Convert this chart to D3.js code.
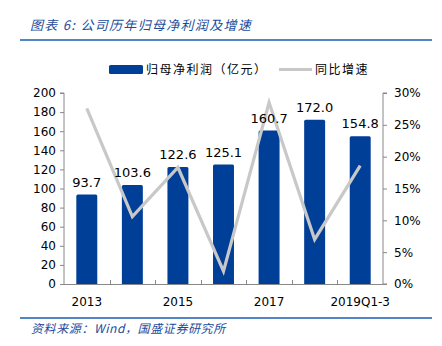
<!DOCTYPE html>
<html><head><meta charset="utf-8">
<script src="https://cdn.jsdelivr.net/npm/d3@7"></script>
<style>
body{margin:0;background:#fff;}
svg{display:block;}
</style></head>
<body>
<svg id="c" width="442" height="346"></svg>
<script>
const categories = ["2013","2014","2015","2016","2017","2018","2019Q1-3"];
const profit = [93.7,103.6,122.6,125.1,160.7,172.0,154.8];
const growth = [27.6,10.6,18.3,2.0,28.5,7.0,18.6];
const leftTicks = [0,20,40,60,80,100,120,140,160,180,200];
const rightTicks = [0,5,10,15,20,25,30];
const xLabels = ["2013","2015","2017","2019Q1-3"];

const svg = d3.select("#c");
const font = "'DejaVu Sans', Verdana, sans-serif";
const cjk = "'Noto Sans CJK SC', sans-serif";
const blue = "#003f98";
const gray = "#c8c8c8";
const axisCol = "#888";

// Title
svg.append("text").attr("x",30).attr("y",30)
  .attr("font-family",cjk).attr("font-style","italic").attr("font-size",13)
  .attr("letter-spacing",1.3)
  .attr("fill","#1a4c9c").text("图表 6:  公司历年归母净利润及增速");
svg.append("line").attr("x1",20).attr("x2",432).attr("y1",40).attr("y2",40)
  .attr("stroke","#1a5bb5").attr("stroke-width",1.5);

// Footer
svg.append("line").attr("x1",20).attr("x2",432).attr("y1",318).attr("y2",318)
  .attr("stroke","#1a5bb5").attr("stroke-width",1.5);
svg.append("text").attr("x",31).attr("y",333)
  .attr("font-family",cjk).attr("font-style","italic").attr("font-size",12)
  .attr("letter-spacing",0.6)
  .attr("fill","#1a4c9c").text("资料来源：Wind，国盛证券研究所");

const x = d3.scaleBand().domain(categories).range([64,383]).paddingInner(0.54).paddingOuter(0.27);
const band = d3.scaleBand().domain(categories).range([64,383]);
const yL = d3.scaleLinear().domain([0,200]).range([284,93]);
const yR = d3.scaleLinear().domain([0,30]).range([284,93]);

// Left axis
const gL = svg.append("g").attr("transform","translate(64,0)")
  .call(d3.axisLeft(yL).tickValues(leftTicks).tickSize(4).tickPadding(4));
gL.select(".domain").attr("stroke",axisCol).attr("d","M-4,93H0V284H0");
gL.selectAll(".tick line").attr("stroke",axisCol);
gL.selectAll("text").attr("font-family",font).attr("font-size",12).attr("fill","#000");

// Right axis
const gR = svg.append("g").attr("transform","translate(383,0)")
  .call(d3.axisRight(yR).tickValues(rightTicks).tickSize(4).tickPadding(7).tickFormat(d=>d+"%"));
gR.select(".domain").attr("stroke",axisCol).attr("d","M4,93H0V284H4");
gR.selectAll(".tick line").attr("stroke",axisCol);
gR.selectAll("text").attr("font-family",font).attr("font-size",12).attr("fill","#000");

// Bars
svg.selectAll("rect.bar").data(categories).join("rect").attr("class","bar")
  .attr("x",d=>x(d)).attr("width",x.bandwidth())
  .attr("y",(d,i)=>yL(profit[i])).attr("height",(d,i)=>yL(0)-yL(profit[i])+1)
  .attr("rx",1.5).attr("fill",blue);

// X axis
svg.append("line").attr("x1",64).attr("x2",383).attr("y1",284.5).attr("y2",284.5)
  .attr("stroke",axisCol);
svg.selectAll("line.xt").data(categories.slice(1)).join("line").attr("class","xt")
  .attr("x1",d=>Math.round(band(d))+0.5).attr("x2",d=>Math.round(band(d))+0.5)
  .attr("y1",280).attr("y2",284).attr("stroke",axisCol);
svg.selectAll("text.xl").data(xLabels).join("text").attr("class","xl")
  .attr("x",d=>band(d)+band.bandwidth()/2).attr("y",306).attr("text-anchor","middle")
  .attr("font-family",font).attr("font-size",12).attr("fill","#000").text(d=>d);

// Line
const line = d3.line().x((d,i)=>band(categories[i])+band.bandwidth()/2).y(d=>yR(d));
svg.append("path").datum(growth).attr("d",line).attr("fill","none")
  .attr("stroke",gray).attr("stroke-width",3.2).attr("stroke-linejoin","miter");

// Value labels
svg.selectAll("text.vl").data(categories).join("text").attr("class","vl")
  .attr("x",d=>band(d)+band.bandwidth()/2).attr("y",(d,i)=>yL(profit[i])-8)
  .attr("text-anchor","middle").attr("font-family",font).attr("font-size",13).attr("fill","#000")
  .text((d,i)=>profit[i].toFixed(1));

// Legend
svg.append("rect").attr("x",109).attr("y",65).attr("width",34).attr("height",9).attr("rx",1.5).attr("fill",blue);
svg.append("text").attr("x",146).attr("y",74).attr("font-family",cjk).attr("font-size",12).attr("fill","#000")
  .attr("letter-spacing",1.5).text("归母净利润（亿元）");
svg.append("line").attr("x1",279).attr("x2",312).attr("y1",69.5).attr("y2",69.5).attr("stroke",gray).attr("stroke-width",3);
svg.append("text").attr("x",315).attr("y",74).attr("font-family",cjk).attr("font-size",12).attr("fill","#000")
  .attr("letter-spacing",1.5).text("同比增速");
</script>
</body></html>
